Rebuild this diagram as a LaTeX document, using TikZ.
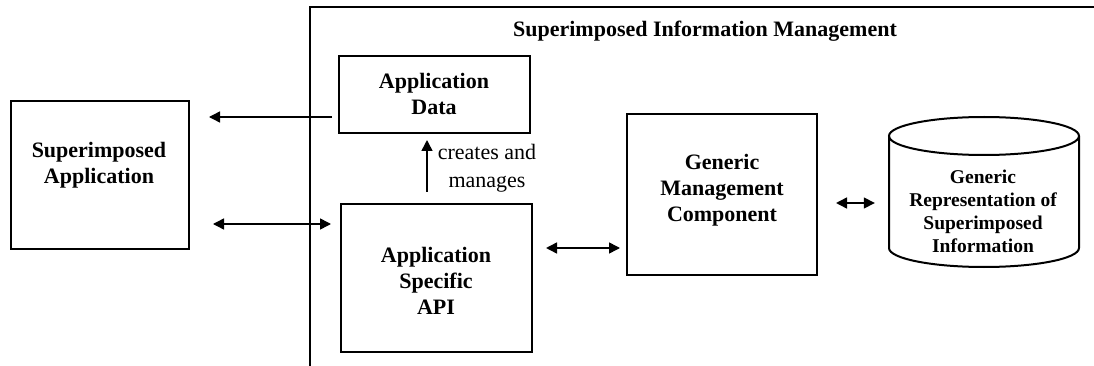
\documentclass[tikz,border=0pt]{standalone}
\usepackage{fontspec}
\setmainfont{Liberation Serif}
\usetikzlibrary{arrows.meta}
\begin{document}
\begin{tikzpicture}[x=1pt,y=-1pt,
  box/.style={draw, line width=2pt, inner sep=0pt},
  lbl/.style={font=\bfseries\fontsize{22}{26}\selectfont, align=center, inner sep=0pt},
  small/.style={font=\bfseries\fontsize{19.5}{23}\selectfont, align=center, inner sep=0pt},
  plain/.style={font=\fontsize{22}{28}\selectfont, align=center, inner sep=0pt},
  arr/.style={line width=1.5pt, -{Triangle[length=11pt,width=11pt]}},
  darr/.style={line width=1.5pt, {Triangle[length=11pt,width=11pt]}-{Triangle[length=11pt,width=11pt]}}]
\useasboundingbox (0,0) rectangle (1094,366);
% frame
\draw[line width=2pt] (310,366) -- (310,7) -- (1094,7);
\node[lbl] (title) at (705,31) {Superimposed Information Management};
% boxes
\node[box, minimum width=178, minimum height=148] (SA) at (99.5,175) {};
\node[lbl] (SAt) at (99,165) {Superimposed\\Application};
\node[box, minimum width=191, minimum height=77] (AD) at (434.5,94.5) {};
\node[lbl] (ADt) at (434,94) {Application\\Data};
\node[box, minimum width=191, minimum height=148] (API) at (436.5,278) {};
\node[lbl] (APIt) at (436,281) {Application\\Specific\\API};
\node[box, minimum width=190, minimum height=161] (GMC) at (722,194.5) {};
\node[lbl] (GMCt) at (722,190) {Generic\\Management\\Component};
% cylinder
\node[minimum width=190, minimum height=150, inner sep=0pt] (cyl) at (984,192) {};
\draw[line width=2pt] (889,136) -- (889,248) arc[start angle=180, end angle=0, x radius=95, y radius=19] -- (1079,136);
\draw[line width=2pt] (984,136) ellipse [x radius=95, y radius=19];
\node[small] (cylt) at (983,211) {Generic\\Representation of\\Superimposed\\Information};
\node[plain] (cm) at (487,168) {creates and\\manages};
% helper coordinates
\coordinate (h1) at (0,117);
\coordinate (h2) at (0,224);
\coordinate (h4) at (0,248);
\coordinate (h5) at (0,203);
\coordinate (v3) at (427,0);
% connectors
\draw[arr, shorten <=6pt, shorten >=19.5pt] (AD.west |- h1) -- (SA.east |- h1);
\draw[darr, shorten <=23.5pt, shorten >=9pt] (SA.east |- h2) -- (API.west |- h2);
\draw[arr, shorten <=11pt, shorten >=6pt] (API.north -| v3) -- (AD.south -| v3);
\draw[darr, shorten <=13pt, shorten >=6pt] (API.east |- h4) -- (GMC.west |- h4);
\draw[darr, shorten <=18pt, shorten >=14pt] (GMC.east |- h5) -- (cyl.west |- h5);
\end{tikzpicture}
\end{document}
